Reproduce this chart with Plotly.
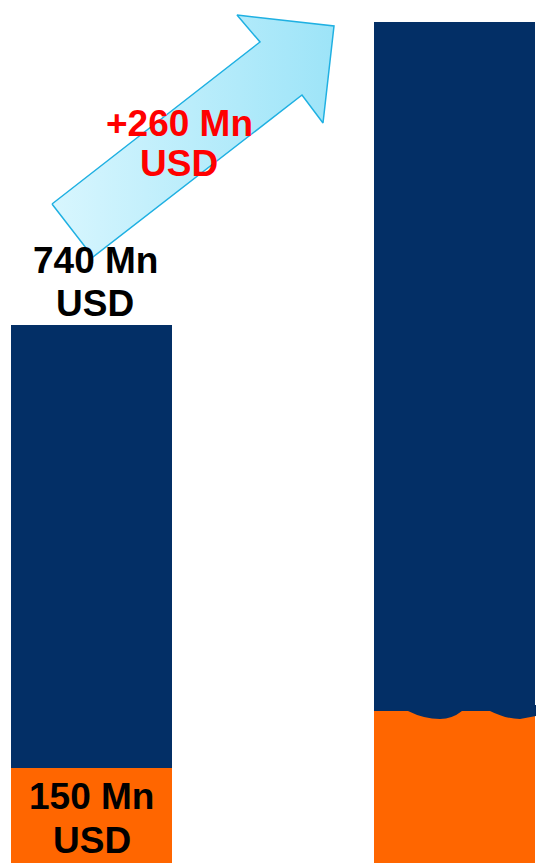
import plotly.graph_objects as go

# bar segments, in Mn USD scale (left total = 740)
positions = [0, 1]
orange_vals = [131, 209]
navy_vals = [609, 948]

# label text
base_label = ["150 Mn", "USD"]
total_label = ["740 Mn", "USD"]
growth_label = ["+260 Mn", "USD"]

NAVY = "#032f66"
ORANGE = "#ff6600"
W, H = 536, 863


def px(x, y):
    # pixel position -> paper coords
    return x / W, 1 - y / H


fig = go.Figure()
fig.add_trace(go.Bar(x=positions, y=orange_vals, width=0.4435,
                     marker=dict(color=ORANGE, line_width=0), hoverinfo="skip"))
fig.add_trace(go.Bar(x=positions, y=navy_vals, width=0.4435,
                     marker=dict(color=NAVY, line_width=0), hoverinfo="skip"))

# arrow (decoration) on an overlay axis measured in pixels
arrow_pts = [(52, 204), (260, 42), (237, 15), (334, 26), (323, 123), (302, 95), (93, 257), (52, 204)]
fig.add_trace(go.Scatter(
    x=[p[0] for p in arrow_pts], y=[p[1] for p in arrow_pts],
    xaxis="x2", yaxis="y2", mode="lines", fill="toself",
    line=dict(color="#1fb0e2", width=1.5),
    fillgradient=dict(type="horizontal",
                      colorscale=[[0, "#d8f6fe"], [1, "#9de4f8"]]),
    hoverinfo="skip"))

# wavy edge between orange and navy on the right bar
wave = [(374, 711), (408, 711), (440, 719), (462, 711), (490, 711), (520, 719), (536, 716)]
wpath = "M %f,%f" % px(*wave[0])
wpath += " L %f,%f" % px(*wave[1])
wpath += " Q %f,%f %f,%f" % (*px(424, 719), *px(*wave[2]))
wpath += " Q %f,%f %f,%f" % (*px(452, 719), *px(*wave[3]))
wpath += " L %f,%f" % px(*wave[4])
wpath += " Q %f,%f %f,%f" % (*px(506, 719), *px(*wave[5]))
wpath += " L %f,%f" % px(*wave[6])
wpath += " L %f,%f L %f,%f Z" % (*px(536, 705), *px(374, 705))
shapes = [dict(type="path", xref="paper", yref="paper", path=wpath,
               fillcolor=NAVY, line_width=0, layer="above")]

font = dict(family="Liberation Sans, Arial, sans-serif", size=37)
ann = []


def add_lines(lines, cx, ys, color):
    for t, yy in zip(lines, ys):
        x, y = px(cx, yy)
        ann.append(dict(text="<b>%s</b>" % t, x=x, y=y, xref="paper", yref="paper",
                        showarrow=False, xanchor="center", yanchor="middle",
                        font=dict(font, color=color)))


add_lines(total_label, 95, [261, 303.5], "black")
add_lines(base_label, 91.5, [796.5, 840.5], "black")
add_lines(growth_label, 179, [123.5, 163.5], "#ff0000")

fig.update_layout(
    barmode="stack", width=W, height=H, showlegend=False,
    margin=dict(l=0, r=0, t=0, b=0),
    paper_bgcolor="white", plot_bgcolor="white",
    xaxis=dict(range=[-91.5 / 363, 1 + 81.5 / 363], visible=False),
    yaxis=dict(range=[0, 863 * 740 / 538], visible=False),
    xaxis2=dict(range=[0, W], overlaying="x", visible=False),
    yaxis2=dict(range=[H, 0], overlaying="y", visible=False),
    shapes=shapes, annotations=ann,
)
fig.write_html("out.html", config={"displayModeBar": False},
               post_script="document.body.style.margin='0';document.body.style.overflow='hidden';")
